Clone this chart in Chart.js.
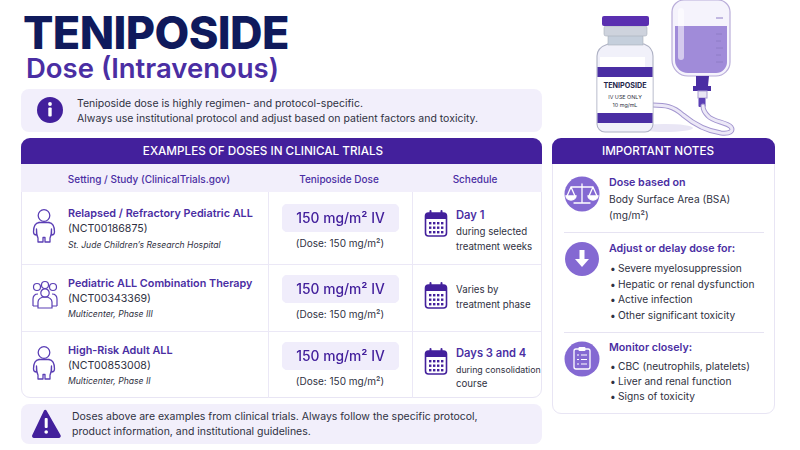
<!DOCTYPE html>
<html><head><meta charset="utf-8"><title>Teniposide Dose</title>
<script src="https://cdn.jsdelivr.net/npm/chart.js@4"></script>
<style>
html,body{margin:0;padding:0;background:#fff;width:800px;height:450px;overflow:hidden;font-family:Inter,"Noto Sans",sans-serif;color:#2b2d42}
#page{position:relative;width:800px;height:450px;overflow:hidden}
.t{position:absolute;white-space:nowrap;line-height:1;transform:translateY(-50%)}
.c{transform:translate(-50%,-50%)}
.box{position:absolute;box-sizing:border-box}
svg{position:absolute;left:0;top:0}
canvas{display:block}
</style></head><body><div id="page"></div>
<script>
// ---- data ----
const categories = ["Relapsed / Refractory Pediatric ALL","Pediatric ALL Combination Therapy","High-Risk Adult ALL"];
const trialIds = ["(NCT00186875)","(NCT00343369)","(NCT00853008)"];
const sites = ["St. Jude Children’s Research Hospital","Multicenter, Phase III","Multicenter, Phase II"];
const doseValues = [150,150,150];
const doseLabels = ["150 mg/m² IV","150 mg/m² IV","150 mg/m² IV"];
const doseNotes = ["(Dose: 150 mg/m²)","(Dose: 150 mg/m²)","(Dose: 150 mg/m²)"];
const columnTitles = ["Setting / Study (ClinicalTrials.gov)","Teniposide Dose","Schedule"];
const scheduleText = [["Day 1","during selected","treatment weeks"],["","Varies by","treatment phase"],["Days 3 and 4","during consolidation","course"]];
const adjustItems = ["Severe myelosuppression","Hepatic or renal dysfunction","Active infection","Other significant toxicity"];
const monitorItems = ["CBC (neutrophils, platelets)","Liver and renal function","Signs of toxicity"];

// ---- layout ----
const page=document.getElementById('page');
const NAVY='#0f1a5c',PUR='#4a2ea3',DEEP='#43209c',LAV='#f2effb',BODY='#2f3142',MID='#8469d2';
function box(x,y,w,h,css){const d=document.createElement('div');d.className='box';d.style.cssText=`left:${x}px;top:${y}px;width:${w}px;height:${h}px;${css||''}`;page.appendChild(d);return d;}
function t(s,x,y,css,center){const d=document.createElement('div');d.className='t'+(center?' c':'');d.textContent=s;d.style.cssText=`left:${x}px;top:${y}px;${css||''}`;page.appendChild(d);return d;}
const body='font-size:10.5px;color:'+BODY+';';

t('TENIPOSIDE',23,31.5,`font-size:45px;font-weight:800;color:${NAVY};letter-spacing:-0.6px`);
t('Dose (Intravenous)',26,69,`font-size:27.5px;font-weight:600;color:${PUR};letter-spacing:0`);

box(21,89,521,43,`background:${LAV};border-radius:8px`);
t('Teniposide dose is highly regimen- and protocol-specific.',77,104,body);
t('Always use institutional protocol and adjust based on patient factors and toxicity.',77,119,body);

// table frame
box(21,138,521,260,'background:#fff;border:1px solid #e8e5f4;border-radius:9px');
box(21,138,521,26,`background:${DEEP};border-radius:9px 9px 0 0`);
box(21,164,521,28,`background:${LAV}`);
t('EXAMPLES OF DOSES IN CLINICAL TRIALS',263,152,'font-size:11.7px;font-weight:500;color:#fff',true);
const colX=[149,339,475];
columnTitles.forEach((s,i)=>t(s,colX[i],179,`font-size:10px;font-weight:500;color:${PUR}`,true));
box(268,192,1,206,'background:#ebe8f6');box(412,192,1,206,'background:#ebe8f6');
box(22,264,519,1,'background:#ebe8f6');box(22,331,519,1,'background:#ebe8f6');

const rowTitleY=[214,284,351],rowIdY=[229,299,366],rowSiteY=[245,314,381];
const pillY=[204,275,342],noteY=[243,314,381];
const schedY=[[216,232,247],[0,290,305],[354,370,384]];
categories.forEach((c,i)=>{
  t(c,68,rowTitleY[i],`font-size:10.8px;font-weight:600;color:${PUR}`);
  t(trialIds[i],68,rowIdY[i],`font-size:10.6px;color:${BODY}`);
  t(sites[i],68,rowSiteY[i],`font-size:8.6px;font-style:italic;color:${BODY}`);
  t(doseNotes[i],340,noteY[i],`font-size:10px;color:${BODY}`,true);
  scheduleText[i].forEach((s,j)=>{
    if(!s) return;
    const size = s.length>18 ? 8.8 : 9.7;
    t(s,456,schedY[i][j],j===0?`font-size:11.2px;font-weight:600;color:${PUR}`:`font-size:${size}px;color:${BODY}`);
  });
});

box(21,404,521,40,`background:${LAV};border-radius:8px`);
t('Doses above are examples from clinical trials. Always follow the specific protocol,',72,417,body);
t('product information, and institutional guidelines.',72,432,body);

// notes panel
box(552,138,223,276,'background:#fff;border:1px solid #e8e5f4;border-radius:9px');
box(552,138,223,26,`background:${DEEP};border-radius:9px 9px 0 0`);
t('IMPORTANT NOTES',658,152,'font-size:11.7px;font-weight:500;color:#fff',true);
box(564,232,200,1,'background:#e6e3f2');box(564,332,200,1,'background:#e6e3f2');
const headS=`font-size:10.7px;font-weight:600;color:${PUR}`, noteS=`font-size:10.2px;color:${BODY}`;
t('Dose based on',609,183,headS);
t('Body Surface Area (BSA)',609,199,noteS);
t('(mg/m²)',609,215,noteS);
t('Adjust or delay dose for:',609,249,headS);
[268,284,299,315].forEach((y,i)=>{t('•',610,y,noteS);t(adjustItems[i],618,y,noteS);});
t('Monitor closely:',609,348,headS);
[366,381,396].forEach((y,i)=>{t('•',610,y,noteS);t(monitorItems[i],618,y,noteS);});

// icons + illustration
const S=document.createElementNS('http://www.w3.org/2000/svg','svg');
S.setAttribute('width',800);S.setAttribute('height',450);S.setAttribute('viewBox','0 0 800 450');
const person=(x,y)=>`<g fill="none" stroke="#5b3fb5" stroke-width="1.3" stroke-linecap="round" stroke-linejoin="round" transform="translate(${x} ${y})"><circle cx="0" cy="-10.500" r="5.800"/><path d="M-5-3.500C-9-3-10.500 1-10.500 6c0 2 1 3 3 3V3M5-3.500C9-3 10.500 1 10.500 6c0 2-1 3-3 3V3M-7.500 3c0 4 .5 7 1.500 9v4h5v-4.500h2V16h5v-4c1-2 1.500-5 1.500-9"/><path d="M-5-3.500h10"/></g>`;
const group=(x,y)=>`<g fill="none" stroke="#5b3fb5" stroke-width="1.2" transform="translate(${x} ${y})"><circle cx="-8" cy="-9" r="3.500"/><circle cx="8" cy="-9" r="3.500"/><circle cx="0" cy="-11" r="3.500"/><circle cx="0" cy="-3" r="4.200"/><path d="M-12 10v-7c0-3 2-5 5-5M12 10v-7c0-3-2-5-5-5M-12 10h5M12 10h-5M-7 12v-6c0-3 3-5 7-5s7 2 7 5v6z"/></g>`;
const cal=(x,y)=>`<g transform="translate(${x} ${y})"><rect x="-10.500" y="-11" width="21" height="23" rx="3" fill="#fff" stroke="#43209c" stroke-width="1.600"/><path d="M-10.500-5v-3a3 3 0 0 1 3-3h15a3 3 0 0 1 3 3v3z" fill="#43209c"/><rect x="-6.500" y="-14" width="2" height="5" rx="1" fill="#43209c"/><rect x="4.500" y="-14" width="2" height="5" rx="1" fill="#43209c"/>${[-1,3.500,8].map(r=>[-7,-3,1,5].map(q=>`<rect x="${q}" y="${r-1}" width="2.400" height="2.400" fill="#43209c"/>`).join('')).join('')}</g>`;
let s='';
s+=`<circle cx="50" cy="110" r="13" fill="${DEEP}"/><circle cx="50" cy="104" r="1.900" fill="#fff"/><rect x="48.300" y="107.500" width="3.400" height="9" rx="1" fill="#fff"/>`;
s+=person(44,226)+group(45,296)+person(44,363)+cal(436,224)+cal(436,296)+cal(436,362);
s+=`<path d="M46.500 410.500L60.500 435a2 2 0 0 1-1.700 3H34a2 2 0 0 1-1.700-3L44 410.500a1.500 1.500 0 0 1 2.500 0z" fill="${DEEP}"/><rect x="44.700" y="418" width="3" height="10" rx="1" fill="#fff"/><circle cx="46.200" cy="432" r="1.800" fill="#fff"/>`;
// note icons
s+=`<circle cx="582" cy="194" r="17.500" fill="${MID}"/><g stroke="#fff" stroke-width="1.300" fill="none" stroke-linecap="round"><path d="M582 184v18M574 203h16M571 187h22M571 187l-4 9M571 187l4 9M593 187l-4 9M593 187l4 9"/><path d="M566 196a5 4 0 0 0 10 0zM588 196a5 4 0 0 0 10 0z" fill="#fff"/></g>`;
s+=`<circle cx="582" cy="259" r="17" fill="${MID}"/><path d="M579.500 250h5v9h4.500l-7 8-7-8h4.500z" fill="#fff"/>`;
s+=`<circle cx="582" cy="359" r="17.500" fill="${MID}"/><rect x="574" y="349" width="16" height="20" rx="2" fill="none" stroke="#fff" stroke-width="1.300"/><rect x="578.500" y="347" width="7" height="4" rx="1" fill="#fff"/><g stroke="#fff" stroke-width="1.100"><path d="M577 355h2M581 355h6M577 359.500h2M581 359.500h6M577 364h2M581 364h6"/></g>`;
// IV bag
s+=`<path d="M684 0h34a12 12 0 0 1 12 12v50a14 14 0 0 1-14 14H688a16 16 0 0 1-16-16V12a12 12 0 0 1 12-12z" fill="#f5f3fc" stroke="#b9add9" stroke-width="1.200"/>`;
s+=`<path d="M675 26h52v36a11 11 0 0 1-11 11H688a13 13 0 0 1-13-13z" fill="#a08bd9"/>`;
s+=`<rect x="678" y="8" width="6" height="52" rx="3" fill="#fff" opacity=".55"/>`;
s+=`<g stroke="#8e7dc6" stroke-width="1"><path d="M716 18h7M716 34h6M716 41h5M716 48h7M716 55h5M716 62h7"/></g>`;
s+=`<path d="M696 76h13l-1 10h3v5h-18v-5h3z" fill="#4a2ea3"/><rect x="698" y="91" width="9" height="7" fill="#e9e6f4" stroke="#a89bd0"/><rect x="698.500" y="98" width="7" height="9" rx="1" fill="#5b3fb5"/>`;
// tube
s+=`<ellipse cx="665" cy="128" rx="28" ry="4" fill="#e9e6f5"/>`;
s+=`<path d="M653 105c12 0 20 1 30 10 12 10 24 16 38 18 9 1 13-2 10-6-4-5-18-5-23-11-3-3-5-6-5-10" fill="none" stroke="#a396cf" stroke-width="5" stroke-linecap="round"/><path d="M653 105c12 0 20 1 30 10 12 10 24 16 38 18 9 1 13-2 10-6-4-5-18-5-23-11-3-3-5-6-5-10" fill="none" stroke="#ece8f7" stroke-width="3" stroke-linecap="round"/>`;
// vial
s+=`<path d="M608 44h36c5 2 9 6 9 12v68a8 8 0 0 1-8 8h-40a8 8 0 0 1-8-8V56c0-6 5-10 11-12z" fill="#f1f1fa" stroke="#aeb1c4" stroke-width="1.100"/><rect x="600" y="57" width="45" height="10" fill="#fff"/>`;
s+=`<rect x="608" y="35" width="35" height="10" fill="#c5cfdc" stroke="#a7aeba" stroke-width=".6"/><rect x="604" y="26" width="43" height="10" rx="2" fill="#ced3dd" stroke="#a7aeba" stroke-width=".6"/><rect x="602" y="16" width="47" height="10" rx="2" fill="#5a2fb0"/>`;
s+=`<rect x="597.500" y="67" width="55" height="10" fill="#4a2ea3"/><rect x="597.500" y="77" width="55" height="36" fill="#fff"/><rect x="597.500" y="113" width="55" height="10" fill="#4a2ea3"/>`;
S.innerHTML=s;page.appendChild(S);
// vial text stays as real text above the drawing
t('TENIPOSIDE',625,86,'font-size:7.2px;font-weight:700;color:#23254a',true);
t('IV USE ONLY',625,98,'font-size:5.4px;color:#2f3142',true);
t('10 mg/mL',625,106,'font-size:5.4px;color:#2f3142',true);

// ---- dose pills: Chart.js bars on a 0–150 value scale ----
const pillText={id:'pillText',afterDatasetsDraw(ch){
  const bar=ch.getDatasetMeta(0).data[0],c=ch.ctx;
  c.save();c.font='500 13.8px Inter';c.fillStyle='#43209c';c.textAlign='center';c.textBaseline='middle';
  c.fillText(ch.options.plugins.pillText.label,(ch.chartArea.left+bar.x)/2,bar.y+.5);c.restore();
}};
categories.forEach((c,i)=>{
  const d=box(282,pillY[i],117,28);
  const cv=document.createElement('canvas');d.appendChild(cv);
  new Chart(cv,{type:'bar',plugins:[pillText],
    data:{labels:[c],datasets:[{data:[doseValues[i]],backgroundColor:'#f0edfb',borderRadius:6,borderSkipped:false,barPercentage:1,categoryPercentage:1}]},
    options:{indexAxis:'y',responsive:true,maintainAspectRatio:false,animation:false,
      layout:{padding:0},
      plugins:{legend:{display:false},tooltip:{enabled:false},pillText:{label:doseLabels[i]}},
      scales:{x:{display:false,min:0,max:150},y:{display:false}}}});
});
</script></body></html>
